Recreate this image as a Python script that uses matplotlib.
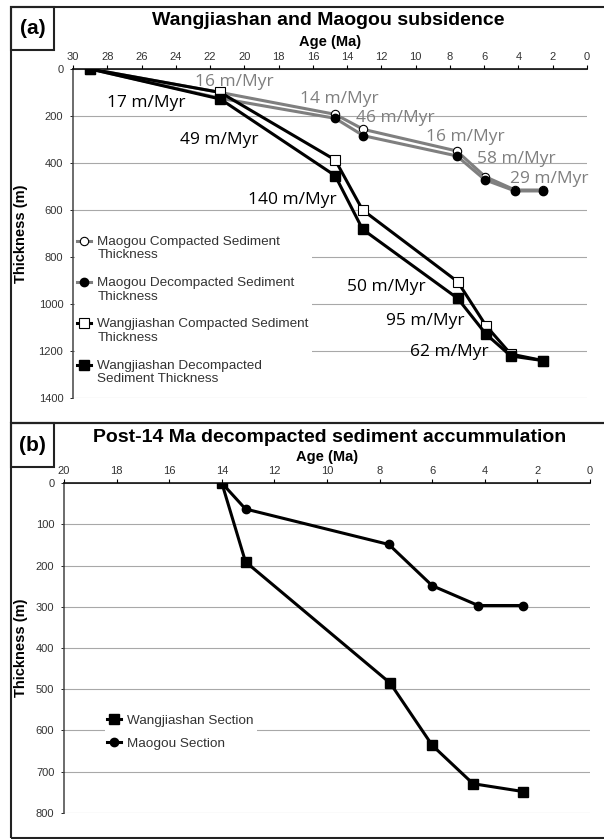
import matplotlib
matplotlib.use('Agg')
import matplotlib.pyplot as plt
from matplotlib.patches import Rectangle
from matplotlib.legend_handler import HandlerLine2D

plt.rcParams['font.family'] = ['Liberation Sans', 'DejaVu Sans']

# ---- panel (a): subsidence, age (Ma) vs thickness (m)
maogou_comp_age = [29, 21.4, 14.7, 13.05, 7.6, 5.95, 4.2, 2.55]
maogou_comp_thk = [0, 100, 193, 257, 349, 458, 515, 515]
maogou_decomp_age = [29, 21.4, 14.7, 13.05, 7.6, 5.95, 4.2, 2.55]
maogou_decomp_thk = [0, 125, 210, 284, 370, 472, 519, 519]
wang_comp_age = [29, 21.4, 14.7, 13.1, 7.55, 5.9, 4.45, 2.55]
wang_comp_thk = [0, 100, 387, 600, 905, 1092, 1213, 1241]
wang_decomp_age = [29, 21.4, 14.7, 13.1, 7.55, 5.9, 4.45, 2.55]
wang_decomp_thk = [0, 128, 454, 682, 976, 1128, 1221, 1241]

# rate labels: (text, age, thickness)
maogou_rates = [('16 m/Myr', 22.9, 55), ('14 m/Myr', 16.75, 128),
                ('46 m/Myr', 13.5, 208), ('16 m/Myr', 9.4, 289),
                ('58 m/Myr', 6.42, 383), ('29 m/Myr', 4.5, 468)]
wang_rates = [('17 m/Myr', 28.0, 145), ('49 m/Myr', 23.76, 302),
              ('140 m/Myr', 19.8, 557), ('50 m/Myr', 14.0, 928),
              ('95 m/Myr', 11.73, 1072), ('62 m/Myr', 10.33, 1204)]

# ---- panel (b): post-14 Ma decompacted accumulation
wang_sec_age = [14, 13.1, 7.6, 6.0, 4.45, 2.55]
wang_sec_thk = [0, 191, 485, 636, 729, 748]
maogou_sec_age = [14, 13.1, 7.65, 6.0, 4.25, 2.55]
maogou_sec_thk = [0, 63, 149, 249, 297, 297]

GRAY = '#7f7f7f'
GRID = '#a8a8a8'
TXT = '#333333'


class FirstLineHandler(HandlerLine2D):
    # put the legend marker next to the first line of a two-line label
    def create_artists(self, legend, orig_handle, xdescent, ydescent,
                       width, height, fontsize, trans):
        return super().create_artists(legend, orig_handle, xdescent,
                                      ydescent - 1.15 * fontsize, width,
                                      height, fontsize, trans)


def style_axis(ax, xmax, ymax, ystep):
    ax.set_xlim(xmax, 0)
    ax.set_ylim(ymax, 0)
    ax.set_xticks(range(xmax, -1, -2))
    ax.set_yticks(range(0, ymax + 1, ystep))
    ax.xaxis.tick_top()
    ax.tick_params(axis='x', direction='out', length=3, width=0.8,
                   labelsize=8, labelcolor=TXT, pad=2)
    ax.tick_params(axis='y', direction='out', length=2, width=0.6,
                   labelsize=8, labelcolor=TXT, pad=5)
    for s in ['right', 'bottom']:
        ax.spines[s].set_visible(False)
    ax.spines['top'].set_linewidth(1.1)
    ax.spines['left'].set_linewidth(1.1)
    ax.spines['left'].set_color('#444444')
    ax.grid(axis='y', color=GRID, linewidth=0.8)
    ax.set_axisbelow(True)


fig = plt.figure(figsize=(6.04, 8.39), dpi=100)

# panel a
ax1 = fig.add_axes([0.1209, 0.5256, 0.851, 0.3922])
style_axis(ax1, 30, 1400, 200)
l1, = ax1.plot(maogou_comp_age, maogou_comp_thk, color=GRAY, lw=2.2,
               marker='o', ms=6, mfc='white', mec='black', mew=0.8, zorder=3)
l2, = ax1.plot(maogou_decomp_age, maogou_decomp_thk, color=GRAY, lw=2.2,
               marker='o', ms=6, mfc='black', mec='black', zorder=3)
l3, = ax1.plot(wang_comp_age, wang_comp_thk, color='black', lw=2.2,
               marker='s', ms=6.5, mfc='white', mec='black', mew=0.8, zorder=4)
l4, = ax1.plot(wang_decomp_age, wang_decomp_thk, color='black', lw=2.2,
               marker='s', ms=6.5, mfc='black', mec='black', zorder=5)
for t, x, y in maogou_rates:
    ax1.text(x, y, t, color=GRAY, fontsize=12.5, family='Open Sans',
             ha='left', va='center', zorder=6)
for t, x, y in wang_rates:
    ax1.text(x, y, t, color='black', fontsize=12.5, family='Open Sans',
             ha='left', va='center', zorder=6)
leg1 = ax1.legend([l1, l2, l3, l4],
                  ['Maogou Compacted Sediment\nThickness',
                   'Maogou Decompacted Sediment\nThickness',
                   'Wangjiashan Compacted Sediment\nThickness',
                   'Wangjiashan Decompacted\nSediment Thickness'],
                  handler_map={l: FirstLineHandler() for l in [l1, l2, l3, l4]},
                  loc='upper left', bbox_to_anchor=(0.003, 0.5015),
                  fontsize=9.7, frameon=True, framealpha=1, edgecolor='none',
                  fancybox=False, handlelength=1.0, handletextpad=0.5,
                  labelspacing=1.15, borderpad=0.2, borderaxespad=0)
for t in leg1.get_texts():
    t.set_color(TXT)
ax1.set_ylabel('Thickness (m)', fontsize=10.5, fontweight='bold')
ax1.yaxis.set_label_coords(-0.0875, 0.5)

# panel b
ax2 = fig.add_axes([0.106, 0.031, 0.8709, 0.3933])
style_axis(ax2, 20, 800, 100)
m1, = ax2.plot(wang_sec_age, wang_sec_thk, color='black', lw=2.2,
               marker='s', ms=6.5, zorder=4)
m2, = ax2.plot(maogou_sec_age, maogou_sec_thk, color='black', lw=2.2,
               marker='o', ms=6, zorder=3)
leg2 = ax2.legend([m1, m2], ['Wangjiashan Section', 'Maogou Section'],
                  loc='upper left', bbox_to_anchor=(0.077, 0.306),
                  fontsize=9.7, frameon=True, framealpha=1, edgecolor='none',
                  fancybox=False, handlelength=1.0, handletextpad=0.5,
                  labelspacing=0.78, borderpad=0.2, borderaxespad=0)
for t in leg2.get_texts():
    t.set_color(TXT)
ax2.set_ylabel('Thickness (m)', fontsize=10.5, fontweight='bold')
ax2.yaxis.set_label_coords(-0.068, 0.5)

# titles and axis titles
fig.text(0.543, 0.975, 'Wangjiashan and Maogou subsidence', fontsize=14,
         fontweight='bold', ha='center', va='center')
fig.text(0.546, 0.950, 'Age (Ma)', fontsize=10.5, fontweight='bold',
         ha='center', va='center')
fig.text(0.546, 0.479, 'Post-14 Ma decompacted sediment accummulation',
         fontsize=14, fontweight='bold', ha='center', va='center')
fig.text(0.541, 0.4553, 'Age (Ma)', fontsize=10.5, fontweight='bold',
         ha='center', va='center')

# panel frames and letter boxes
for r in [(0.0182, 0.4958, 1.0, 0.4958), (0.0182, 0.0012, 1.0, 0.4946),
          (0.0182, 0.9404, 0.0712, 0.0513), (0.0182, 0.4434, 0.0712, 0.0524)]:
    fig.add_artist(Rectangle(r[:2], r[2], r[3], transform=fig.transFigure,
                             fill=False, edgecolor='#222222', lw=1.5))
fig.text(0.0538, 0.966, '(a)', fontsize=15, fontweight='bold',
         ha='center', va='center')
fig.text(0.0538, 0.4696, '(b)', fontsize=15, fontweight='bold',
         ha='center', va='center')

fig.savefig('out.png', dpi=100)
plt.close('all')
